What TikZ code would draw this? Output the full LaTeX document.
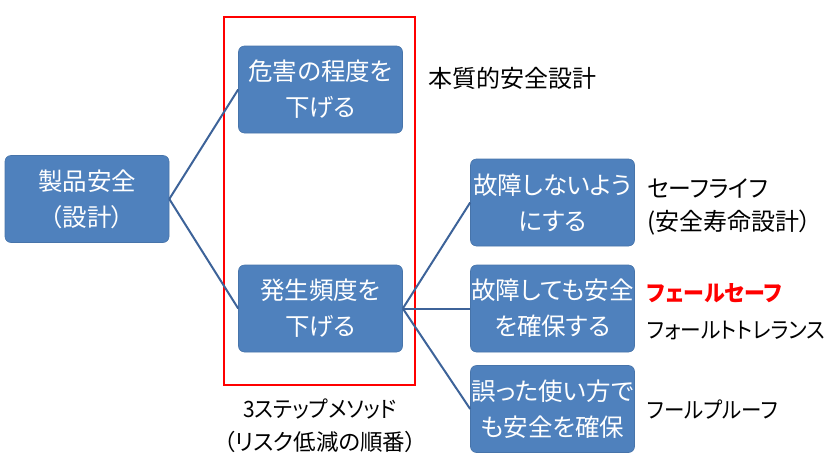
\documentclass[tikz,border=0pt]{standalone}
\usepackage{fontspec}
\setmainfont{Noto Sans CJK JP}[RawFeature=+palt]
\newcommand{\hsq}[2]{\scalebox{#1}[1]{#2}}
\begin{document}
\begin{tikzpicture}[x=1pt,y=-1pt,
  box/.style={draw=boxblue!90!black,line width=0.6pt,fill=boxblue,rounded corners=6pt,
    minimum width=164pt,minimum height=87pt,text=white,align=center,inner sep=0pt,
    font=\fontsize{24.5}{36}\selectfont},
  lbl/.style={anchor=west,inner sep=0pt,align=left,font=\fontsize{24}{33}\selectfont},
  klbl/.style={anchor=west,inner sep=0pt,align=left,font=\fontsize{22.5}{33}\selectfont},
  conn/.style={draw=lineblue,line width=2pt}]
\definecolor{boxblue}{HTML}{4F81BD}
\definecolor{lineblue}{HTML}{3D6399}
\definecolor{redline}{HTML}{FF0000}
\useasboundingbox (0,0) rectangle (838,469);
\node[box] (ps) at (87,199) {製品安全\\（設計）};
\node[box] (hz) at (320.5,89.5) {危害の程度を\\下げる};
\node[box] (fq) at (320.5,308.5) {発生頻度を\\下げる};
\node[box] (b1) at (552.5,202.5) {故障しないよう\\にする};
\node[box] (b2) at (552.5,308.5) {故障しても安全\\を確保する};
\node[box] (b3) at (552.5,409) {誤った使い方で\\も安全を確保};
\draw[draw=redline,line width=2.8pt] (224,17) rectangle (415,385);
\draw[conn] (ps.east) -- (hz.west);
\draw[conn] (ps.east) -- (fq.west);
\draw[conn] (fq.east) -- (b1.west);
\draw[conn] (fq.east) -- (b2.west);
\draw[conn] (fq.east) -- (b3.west);
\node[lbl] (l1) at (428,78) {本質的安全設計};
\node[lbl] (l2) at (647,207) {\hsq{0.95}{セーフライフ}\\(安全寿命設計）};
\node[klbl,text=redline,font=\fontsize{22.5}{33}\selectfont\bfseries] (l3) at (647,293) {\hsq{0.93}{フェールセーフ}};
\node[klbl] (l4) at (647,330) {\hsq{0.92}{フォールトトレランス}};
\node[klbl] (l5) at (647,410) {\hsq{0.91}{フールプルーフ}};
\node[klbl,anchor=center,align=center] (l6) at (320,426) {\hsq{0.93}{3ステップメソッド}\\（リスク低減の順番）};
\end{tikzpicture}
\end{document}
